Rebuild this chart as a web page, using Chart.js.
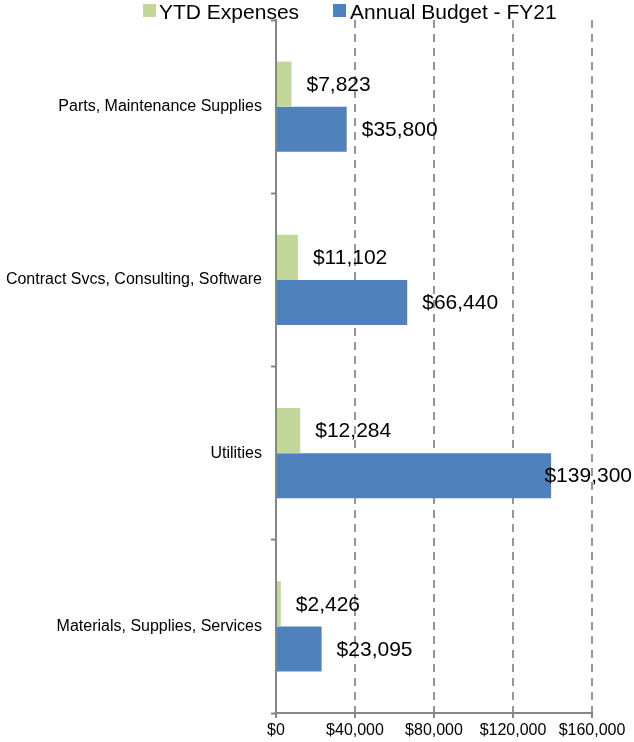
<!DOCTYPE html>
<html>
<head>
<meta charset="utf-8">
<script src="https://cdn.jsdelivr.net/npm/chart.js@4/dist/chart.umd.min.js"></script>
<style>
  body { margin:0; background:#fff; }
  #wrap { position:relative; width:634px; height:742px; }
  .lg { position:absolute; top:1px; font:21px 'Liberation Sans', Arial, sans-serif; line-height:21px; color:#000; white-space:nowrap; }
  .lg i { position:absolute; top:3px; width:13px; height:13px; }
</style>
</head>
<body>
<div id="wrap">
  <canvas id="c" width="634" height="742"></canvas>
  <div class="lg" style="left:159px"><i style="left:-16px;background:#C3D69B"></i>YTD Expenses</div>
  <div class="lg" style="left:350px"><i style="left:-17px;background:#4F81BD"></i>Annual Budget - FY21</div>
</div>
<script>
const categories = ['Parts, Maintenance Supplies', 'Contract Svcs, Consulting, Software', 'Utilities', 'Materials, Supplies, Services']
const ytdExpenses = [7823, 11102, 12284, 2426]
const annualBudget = [35800, 66440, 139300, 23095]
const xTicks = [0, 40000, 80000, 120000, 160000]

const fnt = "'Liberation Sans', Arial, sans-serif"
const money = v => '$' + v.toLocaleString('en-US')

// value labels to the right of each bar, pulled back in if they run off the canvas
const barLabels = {
    id: 'barLabels',
    afterDatasetsDraw(chart) {
        const ctx = chart.ctx
        ctx.save()
        ctx.font = '21px ' + fnt
        ctx.fillStyle = '#000'
        ctx.textBaseline = 'middle'
        chart.data.datasets.forEach((ds, i) => {
            chart.getDatasetMeta(i).data.forEach((bar, j) => {
                const t = money(ds.data[j])
                const w = ctx.measureText(t).width
                let x = bar.x + 15
                if (x + w > chart.width - 2) x = chart.width - 2 - w
                ctx.fillText(t, x, bar.y + 1)
            })
        })
        ctx.restore()
    }
}

new Chart(document.getElementById('c'), {
    type: 'bar',
    data: {
        labels: categories,
        datasets: [
            { label: 'YTD Expenses', data: ytdExpenses, backgroundColor: '#C3D69B' },
            { label: 'Annual Budget - FY21', data: annualBudget, backgroundColor: '#4F81BD' },
        ]
    },
    options: {
        indexAxis: 'y',
        responsive: false,
        animation: false,
        layout: { padding: { top: 20, right: 42, left: 0, bottom: 0 } },
        datasets: { bar: { categoryPercentage: 0.52, barPercentage: 1 } },
        plugins: {
            legend: { display: false },
            tooltip: { enabled: false },
        },
        scales: {
            x: {
                min: 0,
                max: 160000,
                afterBuildTicks: s => { s.ticks = xTicks.map(v => ({ value: v })) },
                afterFit: s => { s.height = 29 },
                ticks: {
                    color: '#000',
                    font: { size: 16, family: fnt },
                    padding: 3,
                    maxRotation: 0,
                    callback: v => money(v),
                },
                grid: {
                    color: '#969696',
                    lineWidth: 2,
                    tickLength: 5,
                    tickColor: '#868686',
                    tickWidth: 2,
                    tickBorderDash: [],
                },
                border: { color: '#868686', width: 2, dash: [8, 6] },
            },
            y: {
                afterFit: s => { s.width = 276 },
                ticks: {
                    color: '#000',
                    font: { size: 16, family: fnt },
                    padding: 9,
                },
                grid: {
                    drawOnChartArea: false,
                    tickLength: 5,
                    tickColor: '#868686',
                    tickWidth: 2,
                },
                border: { color: '#868686', width: 2 },
            }
        }
    },
    plugins: [barLabels]
})
</script>
</body>
</html>
